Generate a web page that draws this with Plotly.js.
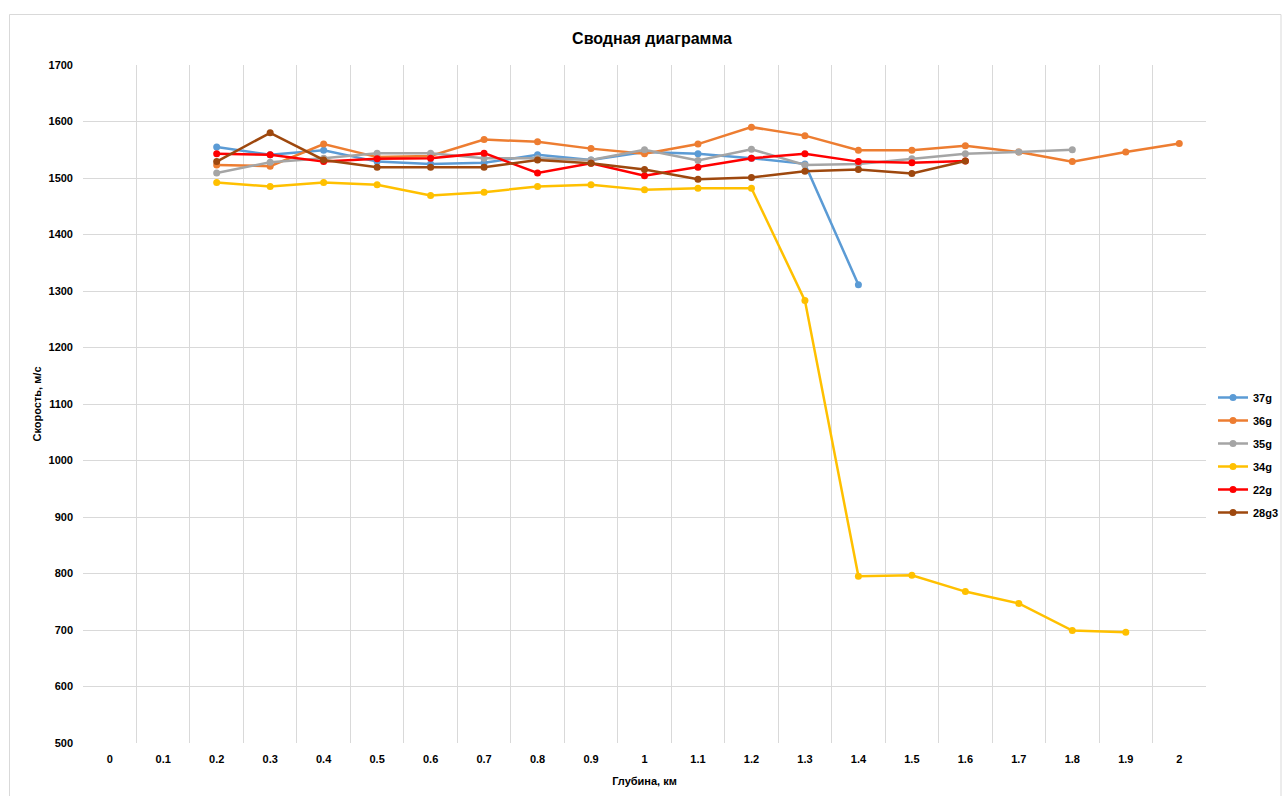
<!DOCTYPE html>
<html>
<head>
<meta charset="utf-8">
<script src="https://cdn.plot.ly/plotly-3.0.1.min.js"></script>
<style>
html,body{margin:0;padding:0;background:#fff;}
#chart{width:1282px;height:796px;}
</style>
</head>
<body>
<div id="chart"></div>
<script>
const depths = ["0","0.1","0.2","0.3","0.4","0.5","0.6","0.7","0.8","0.9","1","1.1","1.2","1.3","1.4","1.5","1.6","1.7","1.8","1.9","2"];

const s37g  = [null,null,1555,1541,1549,1529,1525,1527,1541,1532,1546,1543,1535,1525,1311,null,null,null,null,null,null];
const s36g  = [null,null,1523,1521,1560,1537,1539,1568,1564,1552,1543,1560,1590,1575,1549,1549,1557,1546,1529,1546,1561];
const s35g  = [null,null,1509,1528,1535,1544,1544,1535,1535,1532,1550,1531,1551,1523,1525,1534,1543,1546,1550,null,null];
const s34g  = [null,null,1492,1485,1492,1488,1469,1475,1485,1488,1479,1482,1482,1283,795,797,768,747,699,696,null];
const s22g  = [null,null,1543,1541,1529,1534,1535,1544,1509,1526,1504,1519,1535,1543,1529,1527,1530,null,null,null,null];
const s28g3 = [null,null,1529,1580,1532,1519,1519,1519,1532,1526,1515,1498,1501,1512,1515,1508,1530,null,null,null,null];

const seriesNames = ["37g","36g","35g","34g","22g","28g3"];
const seriesData = [s37g,s36g,s35g,s34g,s22g,s28g3];
const colors = ["#5B9BD5","#ED7D31","#A5A5A5","#FFC000","#FF0000","#9E480E"];

const traces = seriesNames.map((n,i)=>({
  type:"scatter",
  mode:"lines+markers",
  name:n,
  legendgroup:n,
  x:depths,
  y:seriesData[i],
  line:{color:colors[i],width:2.5},
  marker:{color:colors[i],size:7},
  connectgaps:false
}));

// pixel helpers for decoration in paper coords
const L=83, R=1206, T=65, B=743;
const px=(x)=>(x-L)/(R-L);
const py=(y)=>(B-y)/(B-T);

const layout = {
  width:1282, height:796,
  margin:{l:L, r:1282-R, t:T, b:796-B, pad:0, autoexpand:false},
  paper_bgcolor:"#fff",
  plot_bgcolor:"#fff",
  font:{family:"Liberation Sans, Arial, sans-serif", color:"#000", size:11},
  title:{text:"<b>Сводная диаграмма</b>", font:{size:16, color:"#000"}, x:652/1282, xref:"container", xanchor:"center", y:1-38/796, yref:"container", yanchor:"middle"},
  xaxis:{
    type:"category",
    categoryorder:"array",
    categoryarray:depths,
    range:[-0.5,20.5],
    tickson:"boundaries",
    ticks:"",
    showgrid:true,
    gridcolor:"#D9D9D9",
    gridwidth:1,
    showline:false,
    zeroline:false,
    tickfont:{size:11, color:"#000", weight:"bold"},
    ticklabelstandoff:8,
    title:{text:"<b>Глубина, км</b>", font:{size:11,color:"#000"}, standoff:13}
  },
  yaxis:{
    range:[500,1700],
    dtick:100,
    tick0:500,
    showgrid:true,
    gridcolor:"#D9D9D9",
    gridwidth:1,
    zeroline:false,
    showline:false,
    ticks:"",
    tickfont:{size:11, color:"#000", weight:"bold"},
    ticklabelstandoff:9,
    title:{text:"<b>Скорость, м/с</b>", font:{size:11,color:"#000"}, standoff:4}
  },
  legend:{
    x:px(1213), xanchor:"left",
    y:py(455), yanchor:"middle",
    font:{size:11,color:"#000", weight:"bold"},
    tracegroupgap:4,
    itemwidth:30,
    borderwidth:0,
    bgcolor:"rgba(0,0,0,0)"
  },
  showlegend:true,
  shapes:[
    {type:"line", xref:"paper", yref:"paper", x0:px(9.5), x1:px(1281), y0:py(14.5), y1:py(14.5), line:{color:"#D9D9D9", width:1}},
    {type:"line", xref:"paper", yref:"paper", x0:px(9.5), x1:px(9.5), y0:py(14.5), y1:py(800), line:{color:"#D9D9D9", width:1}},
    {type:"line", xref:"paper", yref:"paper", x0:px(1281), x1:px(1281), y0:py(14.5), y1:py(800), line:{color:"#D9D9D9", width:1}}
  ]
};

Plotly.newPlot("chart", traces, layout, {displayModeBar:false, staticPlot:true});
</script>
</body>
</html>
